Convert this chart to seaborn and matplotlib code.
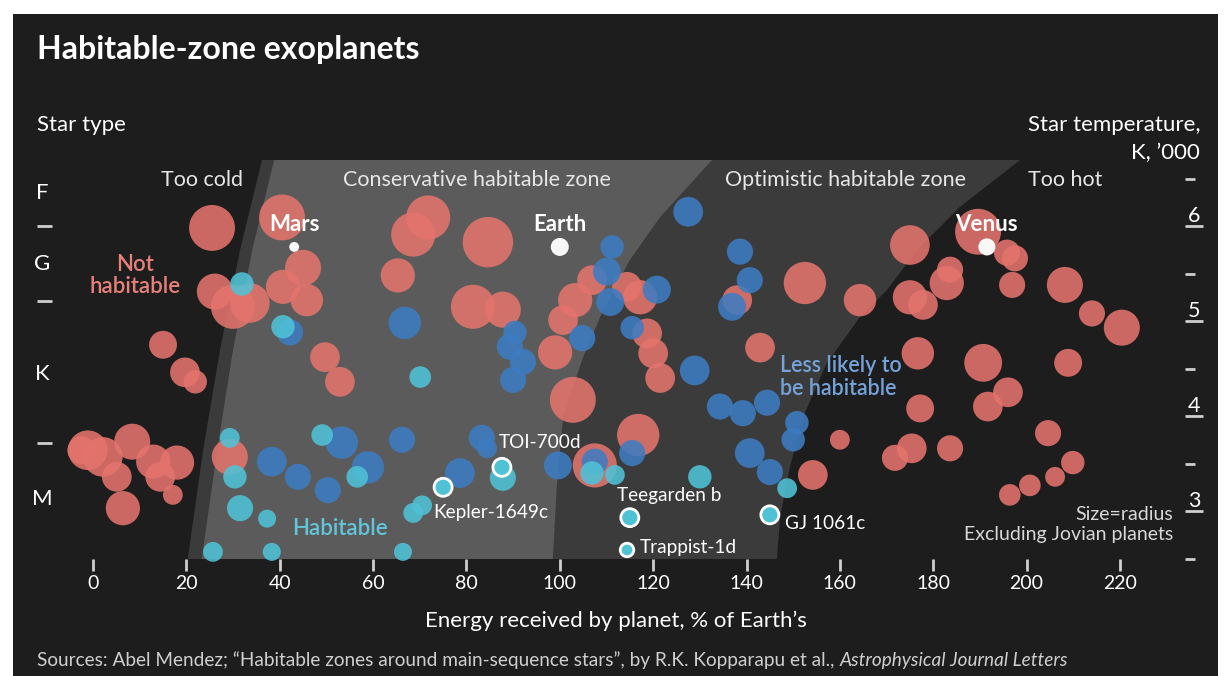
import numpy as np
import pandas as pd
import matplotlib
matplotlib.use("Agg")
import matplotlib.pyplot as plt
from matplotlib.patches import Rectangle
import seaborn as sns

# ---------------- data (energy % of Earth's, star temperature K '000, planet radius Earth=1)
red_energy = [25.5, 40.5, 45.0, 26.1, 30.0, 33.6, 40.7, 45.8, 15.0, 19.7, 21.9, 49.7, 52.9,
              71.8, 68.6, 84.6, 65.3, 81.4, 87.8, 106.9, 103.3, 100.7, 99.0, 114.4, 117.2,
              118.7, 120.0, 121.5, 102.8, 116.8, 107.5, 138.0, 142.9, 152.5, 175.0, 189.6,
              195.8, 197.5, 196.9, 164.3, 175.0, 177.8, 182.9, 183.6, 208.2, 214.0, 220.4,
              176.7, 190.7, 208.9, 196.0, 191.7, 177.2, 160.0, 204.6, 175.4, 171.8, 183.6,
              154.2, 209.9, 206.1, 200.7, 196.4, -2.5, -1.1, 2.1, 8.4, 5.1, 12.9, 18.0,
              14.4, 6.4, 17.1, 29.3]
red_temp = [5.98, 6.09, 5.56, 5.31, 5.15, 5.19, 5.36, 5.22, 4.75, 4.46, 4.36, 4.62, 4.36,
            6.09, 5.91, 5.83, 5.48, 5.15, 5.12, 5.43, 5.22, 5.01, 4.67, 5.36, 5.25,
            4.87, 4.66, 4.40, 4.17, 3.80, 3.48, 5.22, 4.72, 5.40, 5.80, 5.94,
            5.72, 5.66, 5.38, 5.22, 5.25, 5.17, 5.40, 5.54, 5.38, 5.08, 4.93,
            4.66, 4.56, 4.56, 4.25, 4.10, 4.08, 3.75, 3.82, 3.66, 3.56, 3.66,
            3.38, 3.51, 3.36, 3.27, 3.17, 3.64, 3.64, 3.57, 3.73, 3.36, 3.52, 3.51,
            3.36, 3.03, 3.17, 3.57]
red_radius = [2.55, 2.55, 2.0, 2.0, 2.45, 2.2, 1.9, 1.8, 1.55, 1.65, 1.3, 1.65, 1.65,
              2.45, 2.45, 2.8, 1.9, 2.45, 2.0, 1.65, 1.9, 1.65, 1.9, 1.65, 1.9,
              1.65, 1.65, 1.65, 2.55, 2.35, 2.45, 1.65, 1.65, 2.35, 2.2, 2.55,
              1.45, 1.45, 1.45, 1.8, 1.9, 1.65, 1.9, 1.45, 2.0, 1.45, 2.0,
              1.8, 2.1, 1.55, 1.65, 1.65, 1.55, 1.1, 1.45, 1.65, 1.45, 1.45,
              1.65, 1.3, 1.1, 1.2, 1.2, 1.55, 2.2, 2.2, 2.0, 1.65, 1.9, 1.9,
              1.65, 1.9, 1.1, 2.0]

blue_energy = [42.2, 66.8, 90.4, 89.3, 92.1, 90.0, 104.8, 115.5, 128.9, 127.5, 111.2, 110.1,
               110.8, 120.8, 138.6, 140.7, 136.9, 134.3, 139.2, 144.4, 150.8, 150.0, 140.7,
               145.0, 38.3, 43.9, 50.3, 53.3, 58.9, 66.2, 83.3, 84.4, 78.6, 99.6, 115.5, 107.5]
blue_temp = [4.88, 4.98, 4.88, 4.73, 4.57, 4.38, 4.82, 4.93, 4.48, 6.15, 5.78, 5.52,
             5.20, 5.33, 5.73, 5.43, 5.15, 4.10, 4.03, 4.14, 3.93, 3.75, 3.61,
             3.41, 3.52, 3.36, 3.22, 3.72, 3.46, 3.75, 3.77, 3.66, 3.40, 3.48, 3.61, 3.52]
blue_radius = [1.45, 1.8, 1.3, 1.45, 1.45, 1.45, 1.45, 1.3, 1.65, 1.65, 1.3, 1.55,
               1.55, 1.55, 1.45, 1.45, 1.55, 1.45, 1.45, 1.45, 1.3, 1.3, 1.65,
               1.45, 1.65, 1.45, 1.45, 1.8, 1.8, 1.45, 1.45, 1.1, 1.65, 1.55, 1.45, 1.45]

cyan_energy = [31.9, 40.7, 70.1, 29.3, 30.4, 31.5, 37.3, 25.7, 38.3, 49.1, 56.6, 66.4,
               68.6, 70.5, 87.8, 106.9, 111.8, 130.0, 148.7]
cyan_temp = [5.39, 4.94, 4.41, 3.77, 3.36, 3.03, 2.92, 2.57, 2.57, 3.80, 3.36, 2.57,
             2.98, 3.06, 3.35, 3.40, 3.38, 3.36, 3.24]
cyan_radius = [1.3, 1.3, 1.2, 1.1, 1.3, 1.45, 1.0, 1.1, 1.0, 1.2, 1.2, 1.0,
               1.1, 1.1, 1.45, 1.3, 1.1, 1.3, 1.1]

solar_names = ["Mars", "Earth", "Venus"]
solar_energy = [43.1, 100.0, 191.5]
solar_temp = [5.78, 5.78, 5.78]
solar_radius = [0.55, 1.0, 0.95]

named_names = ["TOI-700d", "Kepler-1649c", "Teegarden b", "Trappist-1d", "GJ 1061c"]
named_energy = [87.6, 75.0, 115.0, 114.4, 145.0]
named_temp = [3.46, 3.25, 2.93, 2.59, 2.96]
named_radius = [1.0, 1.0, 1.0, 0.75, 1.0]

# zone boundaries (energy at given star temperature)
zone_temp_cold = [6.695, 5.747, 4.695, 3.642, 2.495]
cold_outer_energy = [36.2, 31.5, 27.2, 23.6, 20.3]
cold_inner_energy = [38.8, 34.1, 30.0, 26.6, 23.3]
cons_hot_temp = [6.695, 6.095, 5.642, 5.116, 4.621, 3.989, 3.295, 2.495]
cons_hot_energy = [132.6, 121.5, 115.0, 109.3, 105.0, 100.7, 99.4, 98.5]
opt_hot_temp = [6.695, 6.2, 5.747, 5.326, 5.042, 4.558, 3.989, 3.463, 2.937, 2.495]
opt_hot_energy = [198.6, 185.7, 176.5, 170.1, 164.3, 157.2, 152.1, 149.3, 147.2, 146.5]

x_ticks = [0, 20, 40, 60, 80, 100, 120, 140, 160, 180, 200, 220]
temp_ticks = [3, 4, 5, 6]
temp_minor = [2.5, 3.5, 4.5, 5.5, 6.5]
type_bounds = [6.0, 5.21, 3.72]
type_names = ["F", "G", "K", "M"]
type_pos = [6.37, 5.62, 4.46, 3.15]

# ---------------- style
BG = "#1d1d1d"
OPT = "#3b3b3b"
CONS = "#5b5b5b"
RED = "#e4736d"
BLUE = "#3d7cc2"
CYAN = "#4fc2d6"
TXT = "#e6e6e6"

sns.set_theme(style="dark")
plt.rcParams['font.family'] = ['Lato', 'DejaVu Sans']

W, H, DPI = 1227, 676, 100
fig = plt.figure(figsize=(W / DPI, H / DPI), dpi=DPI, facecolor="white")
fig.add_artist(Rectangle((13 / W, 0), 1205 / W, 662 / H, transform=fig.transFigure,
                         facecolor=BG, edgecolor="none", zorder=-5))

L, R_, T_, B_ = 52, 1180, 160, 559
ax = fig.add_axes([L / W, (H - B_) / H, (R_ - L) / W, (B_ - T_) / H])
ax.set_facecolor("none")
PX = 4.668
ax.set_xlim((L - 93) / PX, (R_ - 93) / PX)
ax.set_ylim(2.495, 6.695)
for s in ax.spines.values():
    s.set_visible(False)
ax.grid(False)

# zones
ax.fill(list(cold_outer_energy) + list(opt_hot_energy[::-1]),
        list(zone_temp_cold) + list(opt_hot_temp[::-1]), color=OPT, lw=0, zorder=1)
ax.fill(list(cold_inner_energy) + list(cons_hot_energy[::-1]),
        list(zone_temp_cold) + list(cons_hot_temp[::-1]), color=CONS, lw=0, zorder=1.5)

# points
df = pd.concat([
    pd.DataFrame({"energy": red_energy, "temp": red_temp, "radius": red_radius, "group": "Not habitable"}),
    pd.DataFrame({"energy": blue_energy, "temp": blue_temp, "radius": blue_radius, "group": "Less likely"}),
    pd.DataFrame({"energy": cyan_energy, "temp": cyan_temp, "radius": cyan_radius, "group": "Habitable"}),
], ignore_index=True)
df["area"] = df["radius"] ** 2
K = 168.0
amin, amax = 0.2, 9.0
pal = {"Not habitable": RED, "Less likely": BLUE, "Habitable": CYAN}
sns.scatterplot(data=df, x="energy", y="temp", hue="group", palette=pal, size="area",
                sizes=(K * amin, K * amax), size_norm=(amin, amax), alpha=0.88,
                linewidth=0, legend=False, ax=ax, zorder=3, clip_on=False)

dn = pd.DataFrame({"energy": named_energy, "temp": named_temp, "area": np.array(named_radius) ** 2})
sns.scatterplot(data=dn, x="energy", y="temp", size="area", sizes=(K * amin, K * amax),
                size_norm=(amin, amax), color=CYAN, edgecolor="white", linewidth=2,
                legend=False, ax=ax, zorder=4, clip_on=False)
dsol = pd.DataFrame({"energy": solar_energy, "temp": solar_temp, "area": np.array(solar_radius) ** 2})
sns.scatterplot(data=dsol, x="energy", y="temp", size="area", sizes=(K * amin, K * amax),
                size_norm=(amin, amax), color="#f8f8f8", linewidth=0,
                legend=False, ax=ax, zorder=4, clip_on=False)

# labels for named planets
for n, e, t in zip(solar_names, solar_energy, solar_temp):
    ax.annotate(n, (e, t), xytext=(0, 16.5), textcoords="offset points", ha="center",
                va="center", color="white", fontsize=16, fontweight="bold", zorder=6)
named_off = [(-2.5, 18, "left"), (-7, -18, "left"), (-9, 16, "left"), (9, 2, "left"), (11, -6, "left")]
for n, e, t, (dx, dy, ha) in zip(named_names, named_energy, named_temp, named_off):
    ax.annotate(n, (e, t), xytext=(dx, dy), textcoords="offset points", ha=ha,
                va="center", color="white", fontsize=13.7, zorder=6)

# zone titles
for txt, e in [("Too cold", 23.4), ("Conservative habitable zone", 82.3),
               ("Optimistic habitable zone", 161.3), ("Too hot", 208.2)]:
    ax.text(e, 6.484, txt, ha="center", va="center", color=TXT, fontsize=15.5, zorder=6)

ax.text(9.0, 5.479, "Not\nhabitable", ha="center", va="center", color="#e8807a",
        fontsize=16, fontweight="semibold", linespacing=1.1, zorder=6)
ax.text(147.2, 4.41, "Less likely to\nbe habitable", ha="left", va="center", color="#74a3da",
        fontsize=15.5, fontweight="semibold", linespacing=1.1, zorder=6)
ax.text(52.9, 2.82, "Habitable", ha="center", va="center", color="#62c5d9",
        fontsize=16, fontweight="semibold", zorder=6)
ax.text(231.4, 2.86, "Size=radius\nExcluding Jovian planets", ha="right", va="center",
        color="#d8d8d8", fontsize=14, linespacing=1.25, zorder=6)

# x axis
ax.set_xticks(x_ticks)
ax.set_xticklabels([str(v) for v in x_ticks])
ax.tick_params(axis="x", which="major", bottom=True, direction="out", length=12 * 0.72,
               width=2, color="#cfcfcf", labelcolor="white", labelsize=14, pad=3)
ax.set_xlabel("Energy received by planet, % of Earth\u2019s", color="white", fontsize=16,
              labelpad=13)
ax.set_ylabel("")

# left axis: star type
ax.set_yticks(type_bounds)
ax.set_yticklabels([])
ax.set_yticks(type_pos, minor=True)
ax.set_yticklabels(type_names, minor=True)
ax.tick_params(axis="y", which="major", left=True, direction="out", length=15 * 0.72,
               width=2, color="#cfcfcf")
ax.tick_params(axis="y", which="minor", left=True, length=0, pad=10 * 0.72,
               labelsize=16, labelcolor="white")
for lb in ax.get_yticklabels(minor=True):
    lb.set_ha("center")

# right axis: temperature
sec = ax.secondary_yaxis(1 + 5 / (R_ - L))
for s in sec.spines.values():
    s.set_visible(False)
sec.set_yticks(temp_ticks)
sec.set_yticklabels([str(v) for v in temp_ticks])
sec.set_yticks(temp_minor, minor=True)
sec.set_ylabel("")
sec.tick_params(axis="y", which="major", direction="out", length=18 * 0.72, width=2,
                color="#cfcfcf", labelcolor="white", labelsize=15.5, pad=-9 * 0.72)
sec.tick_params(axis="y", which="minor", direction="out", length=10 * 0.72, width=2,
                color="#cfcfcf")
for lb in sec.get_yticklabels():
    lb.set_ha("center")
    lb.set_va("bottom")

# titles and notes
fig.text(37 / W, 1 - 49 / H, "Habitable-zone exoplanets", ha="left", va="center",
         color="white", fontsize=23, fontweight="bold")
fig.text(37 / W, 1 - 125 / H, "Star type", ha="left", va="center", color="white", fontsize=16)
fig.text(1200 / W, 1 - 125 / H, "Star temperature,", ha="right", va="center", color="white", fontsize=16)
fig.text(1200 / W, 1 - 153 / H, "K, \u2019000", ha="right", va="center", color="white", fontsize=16)
t1 = fig.text(37 / W, 1 - 660 / H,
              "Sources: Abel Mendez; \u201cHabitable zones around main-sequence stars\u201d, by R.K. Kopparapu et al., ",
              ha="left", va="center", color="#cfcfcf", fontsize=13.7)
fig.add_artist(matplotlib.text.Annotation("Astrophysical Journal Letters", xy=(1, 0), xycoords=t1,
                                          ha="left", va="bottom", color="#cfcfcf", fontsize=13.7,
                                          fontstyle="italic"))

fig.savefig("out.png", dpi=DPI, facecolor="white")
